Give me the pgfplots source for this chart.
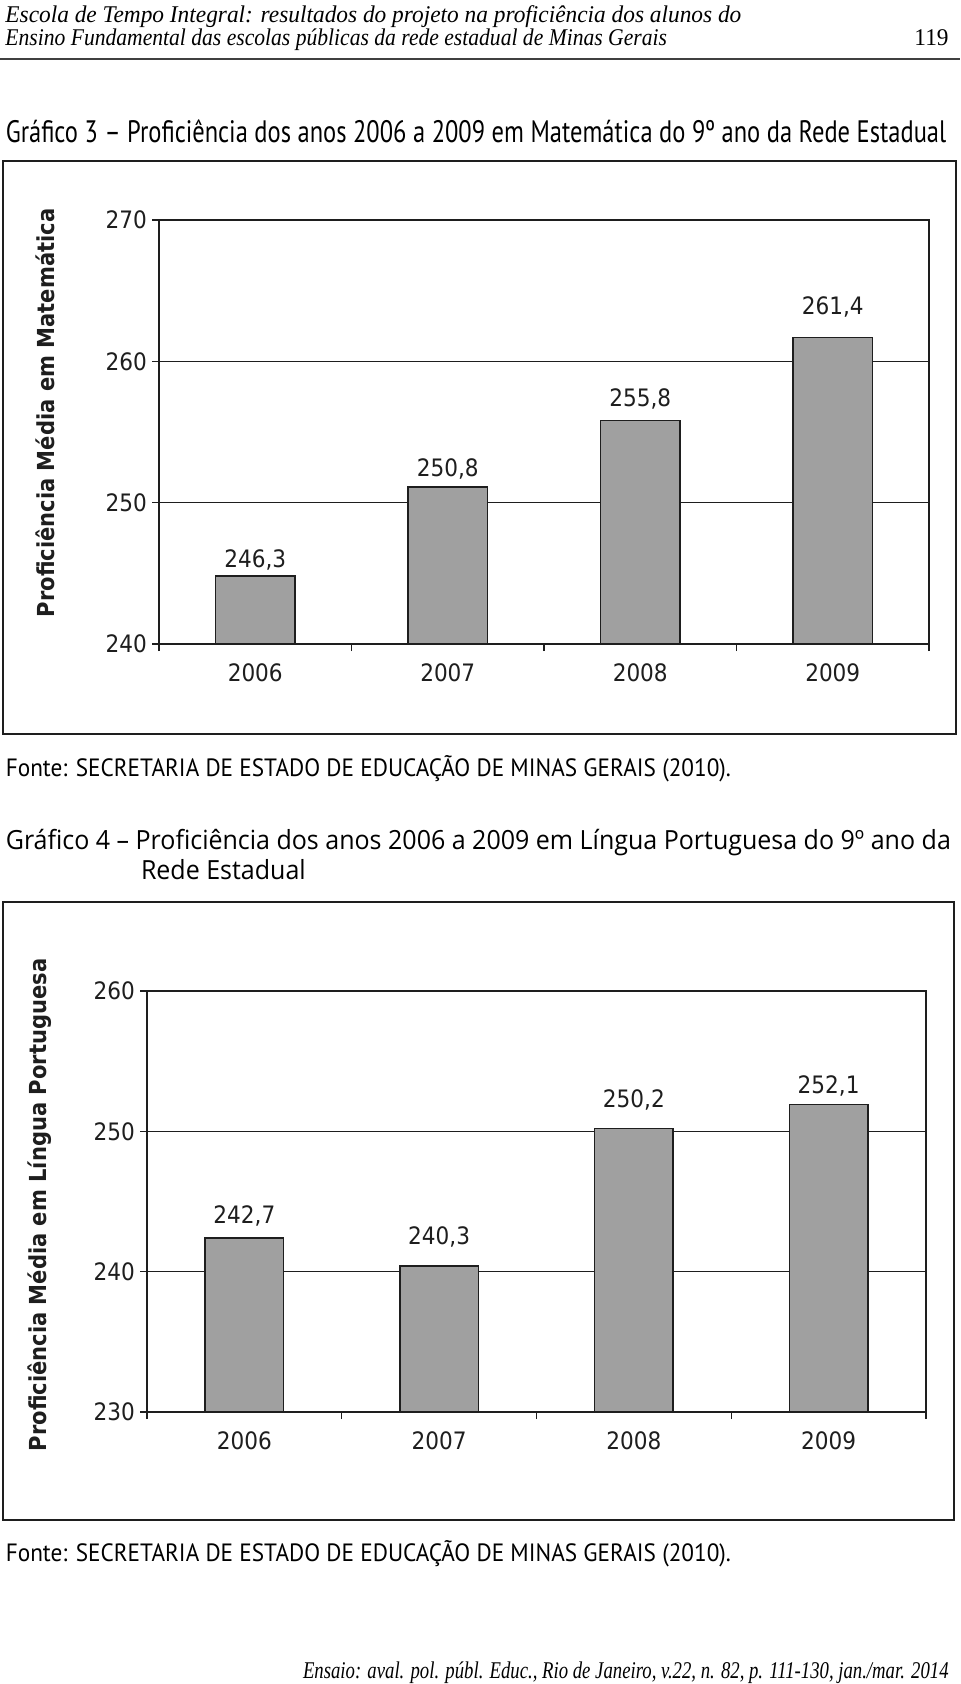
\documentclass[border=0pt]{standalone}
\usepackage{fontspec}
\usepackage{pgfplots}
\usepackage{pgfplotstable}
\pgfplotsset{compat=1.18}
\setmainfont{DejaVu Sans}
\newfontfamily\chartfont{DejaVu Sans}[FakeStretch=0.9]
\newfontfamily\titlefont{PT Sans}[FakeStretch=0.79]
\newfontfamily\fontefont{PT Sans}[FakeStretch=0.93]
\newfontfamily\capfont{Open Sans}[FakeStretch=0.947]
\newfontfamily\headfonta{Liberation Serif}[FakeStretch=0.973]
\newfontfamily\headfontb{Liberation Serif}[FakeStretch=0.90]
\newfontfamily\footfont{Liberation Serif}[FakeStretch=0.78]
\definecolor{barfill}{RGB}{160,160,160}
\definecolor{ink}{RGB}{30,30,30}

% bar heights as drawn, label position and printed value
\pgfplotstableread{
x y ylab lab
1 244.8 245.95 246,3
2 251.1 252.4 250,8
3 255.8 257.35 255,8
4 261.7 263.85 261,4
}\matdata

\pgfplotstableread{
x y ylab lab
1 242.4 244.0 242,7
2 240.4 242.46 240,3
3 250.2 252.26 250,2
4 251.9 253.25 252,1
}\portdata

\pgfplotsset{
  provachart/.style={
    scale only axis,
    xmin=0.5, xmax=4.5,
    xtick={0.5,1.5,2.5,3.5,4.5}, xticklabels={},
    extra x ticks={1,2,3,4},
    extra x tick labels={2006,2007,2008,2009},
    extra x tick style={major tick length=0pt},
    tick align=outside,
    xtick pos=bottom, ytick pos=left,
    major tick length=3.5pt,
    ymajorgrids, grid style={ink, line width=0.7pt},
    axis line style={ink, line width=0.7pt},
    tick style={ink, line width=0.7pt},
    tick label style={font=\chartfont\fontsize{12}{12}\selectfont, text=ink},
    /pgf/number format/assume math mode=true,
    xticklabel style={anchor=center, yshift=-14.5pt},
    yticklabel style={xshift=1pt},
  },
  barplot/.style={ybar, bar width=#1, fill=barfill, draw=ink, line width=0.7pt},
  barlabel/.style={draw=none, mark=none, nodes near coords, point meta=explicit symbolic,
    every node near coord/.append style={anchor=center, inner sep=0pt, text=ink,
      font=\chartfont\fontsize{12}{12}\selectfont}},
}

\begin{document}
\begin{tikzpicture}
\path[use as bounding box, fill=white] (0,0) rectangle (480pt,-842pt);

% page header
\node[anchor=base west, inner sep=0pt, font=\headfonta\itshape\fontsize{12}{12}\selectfont] at (2.5pt,-11.3pt)
  {Escola de Tempo Integral: resultados do projeto na proficiência dos alunos do};
\node[anchor=base west, inner sep=0pt, font=\headfontb\itshape\fontsize{12}{12}\selectfont] at (2.5pt,-23pt)
  {Ensino Fundamental das escolas públicas da rede estadual de Minas Gerais};
\node[anchor=base east, inner sep=0pt, font=\headfonta\fontsize{12}{12}\selectfont] at (474.5pt,-23pt) {119};
\draw[black!75, line width=0.6pt] (0,-29.5pt) -- (480pt,-29.5pt);

% Grafico 3
\node[anchor=base west, inner sep=0pt, font=\titlefont\fontsize{15.5}{15.5}\selectfont] at (2.7pt,-71.4pt)
  {Gráfico 3 – Proficiência dos anos 2006 a 2009 em Matemática do 9º ano da Rede Estadual};
\draw[ink, line width=0.8pt] (1.5pt,-80.5pt) rectangle (478pt,-367pt);
\begin{axis}[provachart, at={(79.5pt,-322pt)}, anchor=south west,
  width=385pt, height=212pt, ymin=240, ymax=270, ytick={240,250,260,270}]
\addplot[barplot=39.75pt] table[x=x, y=y] {\matdata};
\addplot[barlabel] table[x=x, y=ylab, meta=lab] {\matdata};
\end{axis}
\node[rotate=90, inner sep=0pt, font=\chartfont\bfseries\fontsize{11.7}{12}\selectfont, text=ink] at (22.5pt,-206.5pt)
  {Proficiência Média em Matemática};
\node[anchor=base west, inner sep=0pt, font=\fontefont\fontsize{12.5}{12.5}\selectfont] at (2.7pt,-388.2pt)
  {Fonte: SECRETARIA DE ESTADO DE EDUCAÇÃO DE MINAS GERAIS (2010).};

% Grafico 4
\node[anchor=base west, inner sep=0pt, font=\capfont\fontsize{13.2}{13.2}\selectfont] at (2.7pt,-424.7pt)
  {Gráfico 4 – Proficiência dos anos 2006 a 2009 em Língua Portuguesa do 9º ano da};
\node[anchor=base west, inner sep=0pt, font=\capfont\fontsize{13.2}{13.2}\selectfont] at (70.3pt,-439.7pt)
  {Rede Estadual};
\draw[ink, line width=0.8pt] (1.5pt,-451pt) rectangle (477pt,-760pt);
\begin{axis}[provachart, at={(73.5pt,-706pt)}, anchor=south west,
  width=389.5pt, height=210.5pt, ymin=230, ymax=260, ytick={230,240,250,260}]
\addplot[barplot=39.2pt] table[x=x, y=y] {\portdata};
\addplot[barlabel] table[x=x, y=ylab, meta=lab] {\portdata};
\end{axis}
\node[rotate=90, inner sep=0pt, font=\chartfont\bfseries\fontsize{11.7}{12}\selectfont, text=ink] at (20pt,-602.5pt)
  {Proficiência Média em Língua Portuguesa};
\node[anchor=base west, inner sep=0pt, font=\fontefont\fontsize{12.5}{12.5}\selectfont] at (2.7pt,-780.7pt)
  {Fonte: SECRETARIA DE ESTADO DE EDUCAÇÃO DE MINAS GERAIS (2010).};

% page footer
\node[anchor=base east, inner sep=0pt, font=\footfont\itshape\fontsize{12}{12}\selectfont] at (474.5pt,-839pt)
  {Ensaio: aval. pol. públ. Educ., Rio de Janeiro, v.22, n. 82, p. 111-130, jan./mar. 2014};
\end{tikzpicture}
\end{document}
